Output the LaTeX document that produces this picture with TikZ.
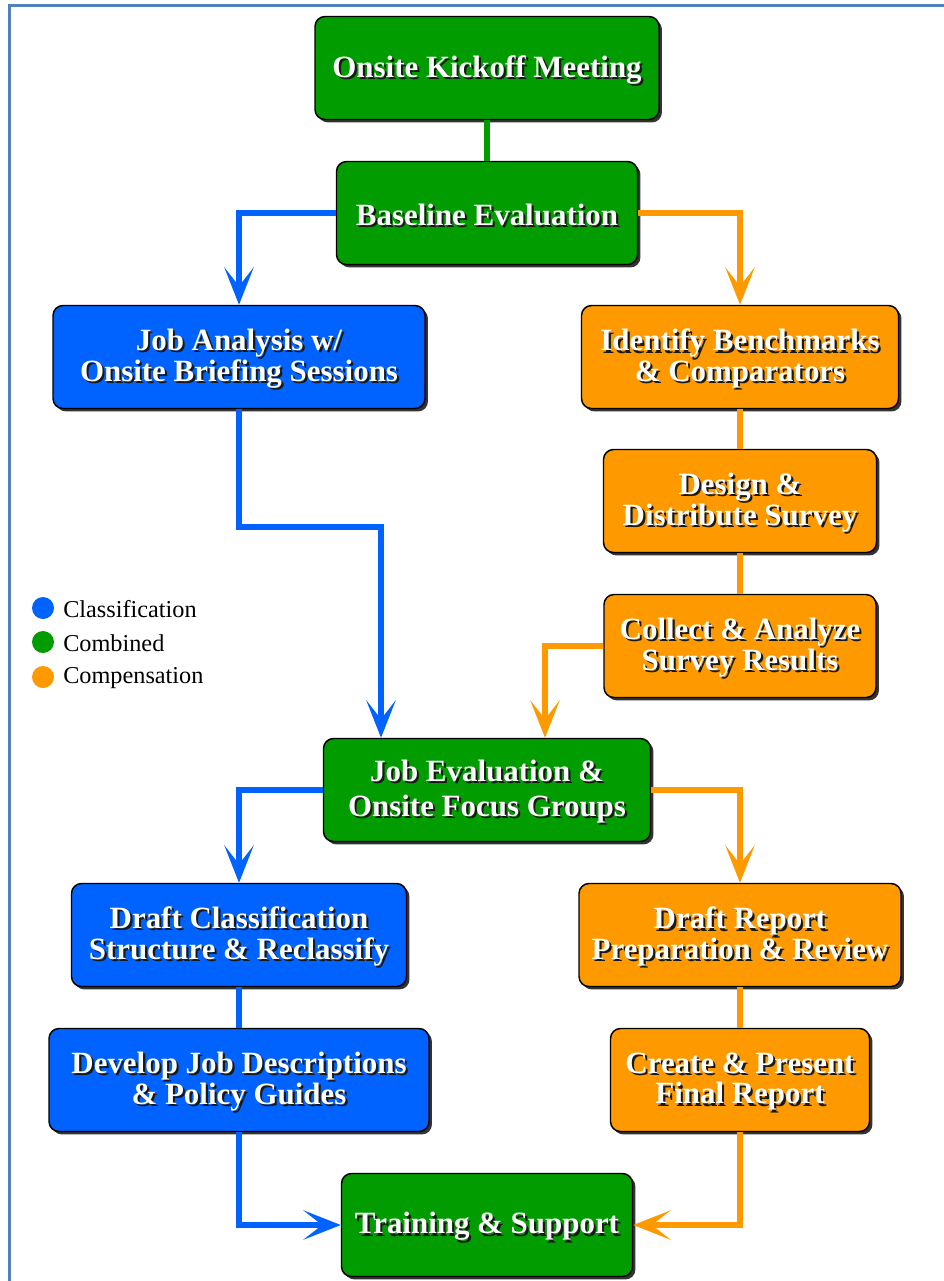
\documentclass[tikz,border=0pt]{standalone}
\usepackage{fontspec}
\setmainfont{Liberation Serif}
\usetikzlibrary{arrows.meta,shadows}
\definecolor{cgreen}{RGB}{0,156,0}
\definecolor{cblue}{RGB}{0,98,255}
\definecolor{corange}{RGB}{255,153,0}
\definecolor{cframe}{RGB}{79,129,189}
\definecolor{shadowc}{RGB}{25,25,25}
\tikzset{
  boxsty/.style={draw=black, line width=1.1pt, rounded corners=7.5pt, inner sep=0pt,
    drop shadow={shadow xshift=2.2pt, shadow yshift=-2.2pt, opacity=0.8, fill=black}},
  txtsty/.style={align=center, inner sep=0pt, text=white},
  conn/.style={line width=3.8pt},
  arr/.style={conn, -{Stealth[length=28pt, width=22pt, inset=14pt]}},
  legdot/.style={circle, inner sep=0pt, minimum size=16.5pt},
  legtxt/.style={anchor=west, font=\fontsize{18.2}{20}\selectfont, inner sep=0pt}
}
\newcommand\sh[1]{\leavevmode\rlap{\kern1.6pt\raisebox{-1.6pt}{\color{shadowc}#1}}#1}
\newcommand\mkbox[8][23]{%
  \node[boxsty, fill=#7, minimum width=#5*0.75pt, minimum height=#6*0.75pt] (#2) at (#3,#4) {};
  \node[txtsty, font=\bfseries\fontsize{23.2}{#1}\selectfont] (#2t) at ([yshift=-2pt]#2.center) {#8};
}
\begin{document}
\begin{tikzpicture}[x=0.75pt, y=-0.75pt]
\useasboundingbox (0,0) rectangle (944,1281);
\fill[white] (0,0) rectangle (944,1281);
\draw[cframe, line width=1.9pt] (9.5,1281) -- (9.5,5.5) -- (944,5.5);

\mkbox{kick}{487}{68}{344}{103}{cgreen}{\sh{Onsite Kickoff Meeting}}
\mkbox{base}{487}{213}{301}{103}{cgreen}{\sh{Baseline Evaluation}}
\mkbox{ja}{239}{357}{372}{103}{cblue}{\sh{Job Analysis w/}\\\sh{Onsite Briefing Sessions}}
\mkbox{id}{740}{357}{317}{103}{corange}{\sh{Identify Benchmarks}\\\sh{\& Comparators}}
\mkbox{ds}{740}{501}{273}{103}{corange}{\sh{Design \&}\\\sh{Distribute Survey}}
\mkbox{co}{740}{646}{272}{103}{corange}{\sh{Collect \& Analyze}\\\sh{Survey Results}}
\mkbox[26]{je}{487}{790}{327}{103}{cgreen}{\sh{Job Evaluation \&}\\\sh{Onsite Focus Groups}}
\mkbox{dc}{239}{935}{335}{103}{cblue}{\sh{Draft Classification}\\\sh{Structure \& Reclassify}}
\mkbox{dr}{740}{935}{322}{103}{corange}{\sh{Draft Report}\\\sh{Preparation \& Review}}
\mkbox{dj}{239}{1080}{380}{103}{cblue}{\sh{Develop Job Descriptions}\\\sh{\& Policy Guides}}
\mkbox{cr}{740}{1080}{259}{103}{corange}{\sh{Create \& Present}\\\sh{Final Report}}
\mkbox{tr}{487}{1225}{291}{103}{cgreen}{\sh{Training \& Support}}

\coordinate (jaturn) at (381,527);
\coordinate (coturn) at (545,646);

\draw[conn, cgreen] (kick.south) -- (base.north);
\draw[arr, cblue] (base.west) -| (ja.north);
\draw[arr, corange] (base.east) -| (id.north);
\draw[conn, corange] (id.south) -- (ds.north);
\draw[conn, corange] (ds.south) -- (co.north);
\draw[arr, cblue] (ja.south) |- (jaturn) -- (jaturn |- je.north);
\draw[arr, corange] (co.west) -- (coturn) -- (coturn |- je.north);
\draw[arr, cblue] (je.west) -| (dc.north);
\draw[arr, corange] (je.east) -| (dr.north);
\draw[conn, cblue] (dc.south) -- (dj.north);
\draw[conn, corange] (dr.south) -- (cr.north);
\draw[arr, cblue] (dj.south) |- (tr.west);
\draw[arr, corange] (cr.south) |- (tr.east);

\node[legdot, fill=cblue] (d1) at (43,608) {};
\node[legdot, fill=cgreen] (d2) at (43,642) {};
\node[legdot, fill=corange] (d3) at (43,677) {};
\node[legtxt] (l1) at (63,609) {Classification};
\node[legtxt] (l2) at (63,643) {Combined};
\node[legtxt] (l3) at (63,678) {Compensation};
\end{tikzpicture}
\end{document}
